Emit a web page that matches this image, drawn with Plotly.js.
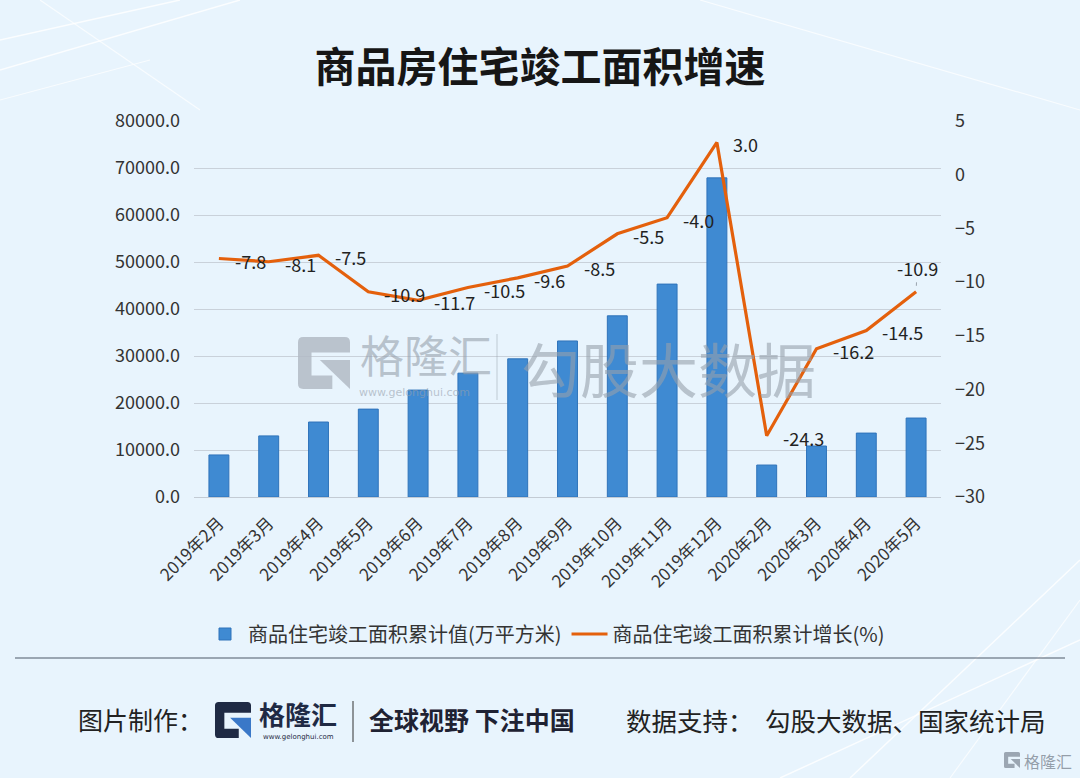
<!DOCTYPE html>
<html>
<head>
<meta charset="utf-8">
<script src="https://cdn.plot.ly/plotly-3.0.1.min.js"></script>
<style>html,body{margin:0;padding:0;background:#e8f4fd;}#chart{width:1080px;height:778px;}</style>
</head>
<body>
<div id="chart"></div>
<script>
// ---- data ----
const categories = ["2019年2月","2019年3月","2019年4月","2019年5月","2019年6月","2019年7月","2019年8月","2019年9月","2019年10月","2019年11月","2019年12月","2020年2月","2020年3月","2020年4月","2020年5月"];
const cumulativeArea = [8950, 13000, 15950, 18700, 22750, 26350, 29400, 33200, 38550, 45300, 67900, 6800, 10850, 13600, 16800];
const growthRate = [-7.8, -8.1, -7.5, -10.9, -11.7, -10.5, -9.6, -8.5, -5.5, -4.0, 3.0, -24.3, -16.2, -14.5, -10.9];
const barName = "商品住宅竣工面积累计值(万平方米)";
const lineName = "商品住宅竣工面积累计增长(%)";
const leftTicks = [0, 10000, 20000, 30000, 40000, 50000, 60000, 70000, 80000];
const rightTicks = [-30, -25, -20, -15, -10, -5, 0, 5];

// ---- layout helpers (pixel -> paper) ----
const L = 194, R = 941, T = 121, B = 497;
const px = X => (X - L) / (R - L);
const py = Y => (B - Y) / (B - T);
const FONT = '"Noto Sans CJK SC", "Noto Sans", sans-serif';

function gLogo(x0, y0, s, dark, blue, opacity) {
  const m = (u, v) => px(x0 + u * s).toFixed(5) + ',' + py(y0 + v * s).toFixed(5);
  const dpath = 'M' + m(0.1, 0) + ' L' + m(0.9, 0) + ' Q' + m(1, 0) + ' ' + m(1, 0.1) +
    ' L' + m(1, 0.3) + ' L' + m(0.26, 0.3) + ' L' + m(0.26, 0.74) + ' L' + m(0.66, 0.74) +
    ' L' + m(0.66, 1) + ' L' + m(0.1, 1) + ' Q' + m(0, 1) + ' ' + m(0, 0.9) +
    ' L' + m(0, 0.1) + ' Q' + m(0, 0) + ' ' + m(0.1, 0) + ' Z';
  const bpath = 'M' + m(0.42, 0.44) + ' L' + m(1, 0.44) + ' L' + m(1, 1) + ' Z';
  return [
    {type: 'path', xref: 'paper', yref: 'paper', path: dpath, fillcolor: dark, line: {width: 0}, opacity: opacity, layer: 'above'},
    {type: 'path', xref: 'paper', yref: 'paper', path: bpath, fillcolor: blue, line: {width: 0}, opacity: opacity, layer: 'above'}
  ];
}

const traces = [
  {
    type: 'bar', name: barName, x: categories, y: cumulativeArea, yaxis: 'y',
    marker: {color: '#3f8ad2', line: {color: '#2f73ba', width: 1}},
    hoverinfo: 'x+y'
  },
  {
    type: 'scatter', mode: 'lines', name: lineName, x: categories, y: growthRate, yaxis: 'y2',
    line: {color: '#e4600c', width: 3.2}
  }
];

// data labels via annotations positioned by the axes
const annotations = growthRate.map((v, i) => {
  const last = i === growthRate.length - 1;
  if (last) {
    return {x: categories[i], y: v, xref: 'x', yref: 'y2', text: v.toFixed(1), showarrow: true,
      ax: 1, ay: -24, arrowhead: 0, arrowwidth: 1, arrowcolor: '#9aa3ad', standoff: 6,
      font: {family: FONT, size: 18, color: '#222'}};
  }
  return {x: categories[i], y: v, xref: 'x', yref: 'y2', text: v.toFixed(1), showarrow: false,
    xanchor: 'left', yanchor: 'middle', xshift: 14, yshift: -2,
    font: {family: FONT, size: 18, color: '#222'}};
});

// watermark & footer texts
annotations.push(
  {xref: 'paper', yref: 'paper', x: px(358), y: py(354), xanchor: 'left', yanchor: 'middle', text: '格隆汇', showarrow: false,
   font: {family: FONT, size: 44, color: 'rgba(150,160,172,0.6)'}},
  {xref: 'paper', yref: 'paper', x: px(414), y: py(392), xanchor: 'center', yanchor: 'middle', text: 'www.gelonghui.com', showarrow: false,
   font: {family: 'DejaVu Sans', size: 11, color: 'rgba(150,160,172,0.6)'}},
  {xref: 'paper', yref: 'paper', x: px(519), y: py(367), xanchor: 'left', yanchor: 'middle', text: '勾股大数据', showarrow: false,
   font: {family: FONT, size: 59, color: 'rgba(150,160,172,0.6)'}},
  {xref: 'paper', yref: 'paper', x: px(76), y: py(719), xanchor: 'left', yanchor: 'middle', text: '图片制作：', showarrow: false,
   font: {family: FONT, size: 25, color: '#222'}},
  {xref: 'paper', yref: 'paper', x: px(257), y: py(713), xanchor: 'left', yanchor: 'middle', text: '<b>格隆汇</b>', showarrow: false,
   font: {family: FONT, size: 26, color: '#1f2a44'}},
  {xref: 'paper', yref: 'paper', x: px(298), y: py(737), xanchor: 'center', yanchor: 'middle', text: 'www.gelonghui.com', showarrow: false,
   font: {family: 'DejaVu Sans', size: 7, color: '#1f2a44'}},
  {xref: 'paper', yref: 'paper', x: px(367), y: py(719), xanchor: 'left', yanchor: 'middle', text: '<b>全球视野 下注中国</b>', showarrow: false,
   font: {family: FONT, size: 25, color: '#1f2233'}},
  {xref: 'paper', yref: 'paper', x: px(624), y: py(719), xanchor: 'left', yanchor: 'middle', text: '数据支持：&nbsp;&nbsp;勾股大数据、国家统计局', showarrow: false,
   font: {family: FONT, size: 25.5, color: '#222'}},
  {xref: 'paper', yref: 'paper', x: px(1022), y: py(761), xanchor: 'left', yanchor: 'middle', text: '格隆汇', showarrow: false,
   font: {family: FONT, size: 16, color: 'rgba(120,130,142,0.75)'}}
);

let shapes = [
  // decorative background lines
  {type: 'line', xref: 'paper', yref: 'paper', x0: px(0), y0: py(40), x1: px(180), y1: py(0), line: {color: 'rgba(255,255,255,0.8)', width: 1.5}, layer: 'below'},
  {type: 'line', xref: 'paper', yref: 'paper', x0: px(0), y0: py(70), x1: px(240), y1: py(0), line: {color: 'rgba(255,255,255,0.8)', width: 1.5}, layer: 'below'},
  {type: 'line', xref: 'paper', yref: 'paper', x0: px(0), y0: py(100), x1: px(150), y1: py(60), line: {color: 'rgba(255,255,255,0.7)', width: 1.2}, layer: 'below'},
  {type: 'line', xref: 'paper', yref: 'paper', x0: px(40), y0: py(0), x1: px(200), y1: py(110), line: {color: 'rgba(255,255,255,0.7)', width: 1.2}, layer: 'below'},
  {type: 'line', xref: 'paper', yref: 'paper', x0: px(700), y0: py(0), x1: px(1080), y1: py(110), line: {color: 'rgba(255,255,255,0.7)', width: 1.2}, layer: 'below'},
  {type: 'line', xref: 'paper', yref: 'paper', x0: px(850), y0: py(778), x1: px(1080), y1: py(560), line: {color: 'rgba(255,255,255,0.8)', width: 1.5}, layer: 'below'},
  {type: 'line', xref: 'paper', yref: 'paper', x0: px(780), y0: py(778), x1: px(1080), y1: py(640), line: {color: 'rgba(255,255,255,0.8)', width: 1.5}, layer: 'below'},
  {type: 'line', xref: 'paper', yref: 'paper', x0: px(950), y0: py(778), x1: px(1080), y1: py(600), line: {color: 'rgba(255,255,255,0.7)', width: 1.2}, layer: 'below'},
  // separator
  {type: 'line', xref: 'paper', yref: 'paper', x0: px(15), y0: py(658), x1: px(1065), y1: py(658), line: {color: '#4d5868', width: 1.2}},
  // footer vertical
  {type: 'line', xref: 'paper', yref: 'paper', x0: px(353), y0: py(701), x1: px(353), y1: py(742), line: {color: '#333', width: 1}},
  // watermark vertical
  {type: 'line', xref: 'paper', yref: 'paper', x0: px(497), y0: py(334), x1: px(497), y1: py(400), line: {color: 'rgba(150,160,172,0.5)', width: 1}, layer: 'above'}
];
shapes = shapes.concat(gLogo(298, 337, 52, 'rgb(178,186,196)', 'rgb(178,186,196)', 0.85));
shapes = shapes.concat(gLogo(215, 702, 36, '#1f2a44', '#3a78c8', 1));
shapes = shapes.concat(gLogo(1004, 752, 16, 'rgb(130,140,152)', 'rgb(130,140,152)', 0.75));

const layout = {
  width: 1080, height: 778,
  margin: {l: L, r: 1080 - R, t: T, b: 778 - B, pad: 0},
  paper_bgcolor: '#e8f4fd', plot_bgcolor: 'rgba(0,0,0,0)',
  font: {family: FONT, color: '#333'},
  title: {text: '<b>商品房住宅竣工面积增速</b>', x: 0.5, xref: 'container', y: 1 - 68 / 778, yref: 'container',
    xanchor: 'center', yanchor: 'middle', font: {family: FONT, size: 41, color: '#161616'}},
  bargap: 0.6,
  showlegend: true,
  legend: {orientation: 'h', x: px(546), xanchor: 'center', y: py(634), yanchor: 'middle',
    font: {family: FONT, size: 20, color: '#333'}, bgcolor: 'rgba(0,0,0,0)', itemwidth: 36, tracegroupgap: 0},
  xaxis: {type: 'category', tickangle: -45, tickfont: {family: FONT, size: 17, color: '#333'}, ticklabelstandoff: 12,
    showgrid: false, zeroline: false, showline: false, ticks: '', fixedrange: true},
  yaxis: {range: [0, 80000], tickvals: leftTicks, tickformat: '.1f', tickfont: {family: FONT, size: 18, color: '#333'},
    ticklabelstandoff: 13,
    showgrid: true, gridcolor: '#c9d1da', gridwidth: 1, zeroline: true, zerolinecolor: '#c3cbd4', showline: false, ticks: ''},
  yaxis2: {range: [-30, 5], tickvals: rightTicks, overlaying: 'y', side: 'right', showgrid: false, zeroline: false,
    ticklabelstandoff: 13, tickfont: {family: FONT, size: 18, color: '#333'}, ticks: ''},
  annotations: annotations,
  shapes: shapes
};

Plotly.newPlot('chart', traces, layout, {displayModeBar: false, staticPlot: true});
</script>
</body>
</html>
